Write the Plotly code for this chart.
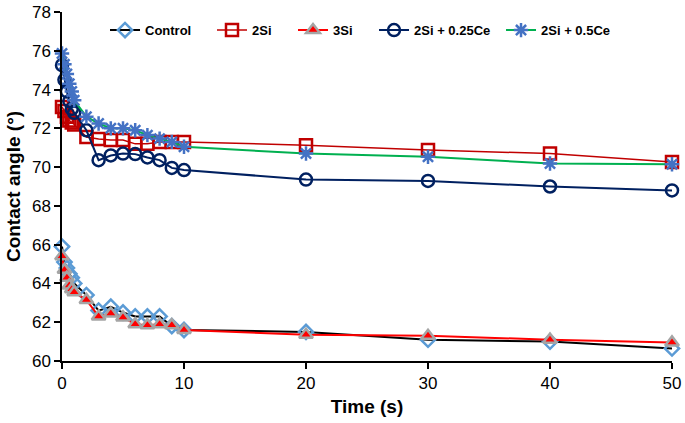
import plotly.graph_objects as go

time = [0, 0.2, 0.4, 0.6, 0.8, 1, 2, 3, 4, 5, 6, 7, 8, 9, 10, 20, 30, 40, 50]

control = [65.9, 65.1, 64.8, 64.5, 64.3, 64.0, 63.4, 62.6, 62.8, 62.5, 62.3, 62.3, 62.3, 61.8, 61.6, 61.5, 61.1, 61.0, 60.65]
si2 = [73.1, 72.9, 72.6, 72.4, 72.3, 72.2, 71.55, 71.45, 71.4, 71.4, 71.2, 71.2, 71.3, 71.3, 71.3, 71.13, 70.88, 70.7, 70.27]
si3 = [65.4, 64.7, 64.3, 63.9, 63.7, 63.55, 63.15, 62.3, 62.45, 62.25, 61.9, 61.85, 61.9, 61.85, 61.6, 61.35, 61.3, 61.1, 60.96]
si2_ce025 = [75.26, 74.5, 73.9, 73.4, 73.0, 72.8, 71.9, 70.36, 70.6, 70.7, 70.67, 70.5, 70.36, 69.96, 69.85, 69.36, 69.29, 69.0, 68.8]
si2_ce05 = [75.86, 75.3, 74.8, 74.3, 73.9, 73.45, 72.6, 72.25, 72.0, 72.0, 71.9, 71.65, 71.47, 71.3, 71.05, 70.7, 70.53, 70.19, 70.15]

y_ticks = [60, 62, 64, 66, 68, 70, 72, 74, 76, 78]
x_ticks = [0, 10, 20, 30, 40, 50]

FONT = "Liberation Sans, Arial, sans-serif"

fig = go.Figure()
fig.add_trace(go.Scatter(x=time, y=control, name="Control", mode="lines+markers", legend="legend",
                         line=dict(color="black", width=2),
                         marker=dict(symbol="diamond-open", size=11, color="#5B9BD5",
                                     line=dict(color="#5B9BD5", width=2.5)),
                         cliponaxis=False))
fig.add_trace(go.Scatter(x=time, y=si2, name="2Si", mode="lines+markers", legend="legend2",
                         line=dict(color="#C00000", width=1.5),
                         marker=dict(symbol="square-open", size=12, color="#C00000",
                                     line=dict(color="#C00000", width=2.5)),
                         cliponaxis=False))
fig.add_trace(go.Scatter(x=time, y=si3, name="3Si", mode="lines+markers", legend="legend3",
                         line=dict(color="#FF0000", width=2),
                         marker=dict(symbol="triangle-up", size=12, color="#FF0000",
                                     line=dict(color="#A5A5A5", width=2.5)),
                         cliponaxis=False))
fig.add_trace(go.Scatter(x=time, y=si2_ce025, name="2Si + 0.25Ce", mode="lines+markers", legend="legend4",
                         line=dict(color="#002060", width=2),
                         marker=dict(symbol="circle-open", size=12, color="#002060",
                                     line=dict(color="#002060", width=2.5)),
                         cliponaxis=False))
fig.add_trace(go.Scatter(x=time, y=si2_ce05, name="2Si + 0.5Ce", mode="lines+markers", legend="legend5",
                         line=dict(color="#00B050", width=2),
                         marker=dict(symbol="asterisk-open", size=12, color="#4472C4",
                                     line=dict(color="#4472C4", width=2.5)),
                         cliponaxis=False))


def leg(x):
    return dict(x=x, y=0.948, xanchor="left", yanchor="middle", orientation="h",
                font=dict(size=13, family=FONT, weight="bold", color="black"),
                bgcolor="rgba(0,0,0,0)", borderwidth=0, visible=True)


fig.update_layout(
    width=685, height=423,
    showlegend=True,
    margin=dict(l=62, r=13, t=12, b=62, autoexpand=False),
    paper_bgcolor="white", plot_bgcolor="white",
    font=dict(family=FONT, color="black"),
    legend=leg(0.0705), legend2=leg(0.2459), legend3=leg(0.3787),
    legend4=leg(0.5115), legend5=leg(0.7197),
    xaxis=dict(range=[0, 50], tickvals=x_ticks, ticks="outside", ticklen=6,
               tickwidth=1.5, tickcolor="black", showline=True, linecolor="black",
               linewidth=1.5, showgrid=False, zeroline=False, automargin=False,
               tickfont=dict(size=17),
               title=dict(text="<b>Time (s)</b>", font=dict(size=19), standoff=8)),
    yaxis=dict(range=[60, 78], tickvals=y_ticks, ticks="outside", ticklen=6,
               tickwidth=1.5, tickcolor="black", showline=True, linecolor="black",
               linewidth=1.5, showgrid=False, zeroline=False, automargin=False,
               tickfont=dict(size=17),
               title=dict(text="<b>Contact angle (°)</b>", font=dict(size=19), standoff=6)),
)

fig.write_html("out.html", config={"displayModeBar": False},
               post_script="document.body.style.margin='0';document.body.style.overflow='hidden';")
